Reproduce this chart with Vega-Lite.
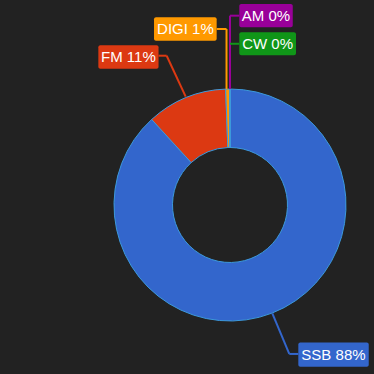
{
  "$schema": "https://vega.github.io/schema/vega-lite/v6.json",
  "width": 374,
  "height": 374,
  "autosize": "none",
  "padding": 0,
  "background": "#222222",
  "config": {"view": {"stroke": null}},
  "data": {
    "values": [
      {"mode": "SSB", "count": 882, "label": "SSB 88%"},
      {"mode": "FM", "count": 112, "label": "FM 11%"},
      {"mode": "DIGI", "count": 6, "label": "DIGI 1%"},
      {"mode": "AM", "count": 0, "label": "AM 0%"},
      {"mode": "CW", "count": 0, "label": "CW 0%"}
    ]
  },
  "encoding": {
    "color": {
      "field": "mode",
      "type": "nominal",
      "scale": {
        "domain": ["SSB", "FM", "DIGI", "AM", "CW"],
        "range": ["#3366cc", "#dc3912", "#ff9900", "#990099", "#109618"]
      },
      "legend": null
    }
  },
  "layer": [
    {
      "mark": {"type": "arc", "outerRadius": 116, "innerRadius": 57.5, "stroke": "#3c99dc", "strokeWidth": 1},
      "encoding": {
        "x": {"datum": 0, "type": "quantitative", "scale": {"domain": [-198.28, 124.14], "nice": false, "zero": false}, "axis": null},
        "y": {"datum": 0, "type": "quantitative", "scale": {"domain": [-145.69, 176.72], "nice": false, "zero": false}, "axis": null},
        "theta": {"field": "count", "type": "quantitative", "stack": true},
        "order": {"field": "count", "sort": "descending"}
      }
    },
    {
      "transform": [{"filter": "datum.mode === 'FM'"}],
      "layer": [
        {"mark": {"type": "rule", "strokeWidth": 2}, "encoding": {"x": {"datum": -38.2, "type": "quantitative", "scale": {"domain": [-198.28, 124.14], "nice": false, "zero": false}, "axis": null}, "y": {"datum": 93.4, "type": "quantitative", "scale": {"domain": [-145.69, 176.72], "nice": false, "zero": false}, "axis": null}, "x2": {"datum": -54.6}, "y2": {"datum": 128.7}}},
        {"mark": {"type": "rule", "strokeWidth": 2}, "encoding": {"x": {"datum": -54.6, "type": "quantitative", "scale": {"domain": [-198.28, 124.14], "nice": false, "zero": false}, "axis": null}, "y": {"datum": 128.7, "type": "quantitative", "scale": {"domain": [-145.69, 176.72], "nice": false, "zero": false}, "axis": null}, "x2": {"datum": -61.6}, "y2": {"datum": 128.7}}},
        {"mark": {"type": "rect", "cornerRadius": 2}, "encoding": {"x": {"datum": -113.5, "type": "quantitative", "scale": {"domain": [-198.28, 124.14], "nice": false, "zero": false}, "axis": null}, "x2": {"datum": -61.6}, "y": {"datum": 137.7, "type": "quantitative", "scale": {"domain": [-145.69, 176.72], "nice": false, "zero": false}, "axis": null}, "y2": {"datum": 117.5}}},
        {"mark": {"type": "text", "fontSize": 15, "font": "Liberation Sans"}, "encoding": {"x": {"datum": -87.6, "type": "quantitative", "scale": {"domain": [-198.28, 124.14], "nice": false, "zero": false}, "axis": null}, "y": {"datum": 127.6, "type": "quantitative", "scale": {"domain": [-145.69, 176.72], "nice": false, "zero": false}, "axis": null}, "text": {"field": "label"}, "color": {"value": "#ffffff"}}}
      ]
    },
    {
      "transform": [{"filter": "datum.mode === 'DIGI'"}],
      "layer": [
        {"mark": {"type": "rule", "strokeWidth": 2}, "encoding": {"x": {"datum": -3.0, "type": "quantitative", "scale": {"domain": [-198.28, 124.14], "nice": false, "zero": false}, "axis": null}, "y": {"datum": 100, "type": "quantitative", "scale": {"domain": [-145.69, 176.72], "nice": false, "zero": false}, "axis": null}, "x2": {"datum": -3.0}, "y2": {"datum": 151.7}}},
        {"mark": {"type": "rule", "strokeWidth": 2}, "encoding": {"x": {"datum": -3.0, "type": "quantitative", "scale": {"domain": [-198.28, 124.14], "nice": false, "zero": false}, "axis": null}, "y": {"datum": 151.7, "type": "quantitative", "scale": {"domain": [-145.69, 176.72], "nice": false, "zero": false}, "axis": null}, "x2": {"datum": -11.5}, "y2": {"datum": 151.7}}},
        {"mark": {"type": "rect", "cornerRadius": 2}, "encoding": {"x": {"datum": -65.5, "type": "quantitative", "scale": {"domain": [-198.28, 124.14], "nice": false, "zero": false}, "axis": null}, "x2": {"datum": -11.5}, "y": {"datum": 161.8, "type": "quantitative", "scale": {"domain": [-145.69, 176.72], "nice": false, "zero": false}, "axis": null}, "y2": {"datum": 141.6}}},
        {"mark": {"type": "text", "fontSize": 15, "font": "Liberation Sans"}, "encoding": {"x": {"datum": -38.4, "type": "quantitative", "scale": {"domain": [-198.28, 124.14], "nice": false, "zero": false}, "axis": null}, "y": {"datum": 151.7, "type": "quantitative", "scale": {"domain": [-145.69, 176.72], "nice": false, "zero": false}, "axis": null}, "text": {"field": "label"}, "color": {"value": "#ffffff"}}}
      ]
    },
    {
      "transform": [{"filter": "datum.mode === 'AM'"}],
      "layer": [
        {"mark": {"type": "rule", "strokeWidth": 2}, "encoding": {"x": {"datum": 0, "type": "quantitative", "scale": {"domain": [-198.28, 124.14], "nice": false, "zero": false}, "axis": null}, "y": {"datum": 100, "type": "quantitative", "scale": {"domain": [-145.69, 176.72], "nice": false, "zero": false}, "axis": null}, "x2": {"datum": 0}, "y2": {"datum": 163.2}}},
        {"mark": {"type": "rule", "strokeWidth": 2}, "encoding": {"x": {"datum": 0, "type": "quantitative", "scale": {"domain": [-198.28, 124.14], "nice": false, "zero": false}, "axis": null}, "y": {"datum": 163.2, "type": "quantitative", "scale": {"domain": [-145.69, 176.72], "nice": false, "zero": false}, "axis": null}, "x2": {"datum": 8.0}, "y2": {"datum": 163.2}}},
        {"mark": {"type": "rect", "cornerRadius": 2}, "encoding": {"x": {"datum": 8.0, "type": "quantitative", "scale": {"domain": [-198.28, 124.14], "nice": false, "zero": false}, "axis": null}, "x2": {"datum": 54.1}, "y": {"datum": 173.3, "type": "quantitative", "scale": {"domain": [-145.69, 176.72], "nice": false, "zero": false}, "axis": null}, "y2": {"datum": 153.2}}},
        {"mark": {"type": "text", "fontSize": 15, "font": "Liberation Sans"}, "encoding": {"x": {"datum": 31.0, "type": "quantitative", "scale": {"domain": [-198.28, 124.14], "nice": false, "zero": false}, "axis": null}, "y": {"datum": 163.2, "type": "quantitative", "scale": {"domain": [-145.69, 176.72], "nice": false, "zero": false}, "axis": null}, "text": {"field": "label"}, "color": {"value": "#ffffff"}}}
      ]
    },
    {
      "transform": [{"filter": "datum.mode === 'CW'"}],
      "layer": [
        {"mark": {"type": "rule", "strokeWidth": 2}, "encoding": {"x": {"datum": 0, "type": "quantitative", "scale": {"domain": [-198.28, 124.14], "nice": false, "zero": false}, "axis": null}, "y": {"datum": 139, "type": "quantitative", "scale": {"domain": [-145.69, 176.72], "nice": false, "zero": false}, "axis": null}, "x2": {"datum": 8.0}, "y2": {"datum": 139}}},
        {"mark": {"type": "rect", "cornerRadius": 2}, "encoding": {"x": {"datum": 8.0, "type": "quantitative", "scale": {"domain": [-198.28, 124.14], "nice": false, "zero": false}, "axis": null}, "x2": {"datum": 56.9}, "y": {"datum": 148.9, "type": "quantitative", "scale": {"domain": [-145.69, 176.72], "nice": false, "zero": false}, "axis": null}, "y2": {"datum": 129.1}}},
        {"mark": {"type": "text", "fontSize": 15, "font": "Liberation Sans"}, "encoding": {"x": {"datum": 32.4, "type": "quantitative", "scale": {"domain": [-198.28, 124.14], "nice": false, "zero": false}, "axis": null}, "y": {"datum": 139, "type": "quantitative", "scale": {"domain": [-145.69, 176.72], "nice": false, "zero": false}, "axis": null}, "text": {"field": "label"}, "color": {"value": "#ffffff"}}}
      ]
    },
    {
      "transform": [{"filter": "datum.mode === 'SSB'"}],
      "layer": [
        {"mark": {"type": "rule", "strokeWidth": 2}, "encoding": {"x": {"datum": 36.5, "type": "quantitative", "scale": {"domain": [-198.28, 124.14], "nice": false, "zero": false}, "axis": null}, "y": {"datum": -93.5, "type": "quantitative", "scale": {"domain": [-145.69, 176.72], "nice": false, "zero": false}, "axis": null}, "x2": {"datum": 51.1}, "y2": {"datum": -128.4}}},
        {"mark": {"type": "rule", "strokeWidth": 2}, "encoding": {"x": {"datum": 51.1, "type": "quantitative", "scale": {"domain": [-198.28, 124.14], "nice": false, "zero": false}, "axis": null}, "y": {"datum": -128.4, "type": "quantitative", "scale": {"domain": [-145.69, 176.72], "nice": false, "zero": false}, "axis": null}, "x2": {"datum": 58.9}, "y2": {"datum": -128.4}}},
        {"mark": {"type": "rect", "cornerRadius": 2}, "encoding": {"x": {"datum": 58.9, "type": "quantitative", "scale": {"domain": [-198.28, 124.14], "nice": false, "zero": false}, "axis": null}, "x2": {"datum": 119.6}, "y": {"datum": -118.5, "type": "quantitative", "scale": {"domain": [-145.69, 176.72], "nice": false, "zero": false}, "axis": null}, "y2": {"datum": -139.4}}},
        {"mark": {"type": "text", "fontSize": 15, "font": "Liberation Sans"}, "encoding": {"x": {"datum": 89.2, "type": "quantitative", "scale": {"domain": [-198.28, 124.14], "nice": false, "zero": false}, "axis": null}, "y": {"datum": -129.0, "type": "quantitative", "scale": {"domain": [-145.69, 176.72], "nice": false, "zero": false}, "axis": null}, "text": {"field": "label"}, "color": {"value": "#ffffff"}}}
      ]
    }
  ]
}
